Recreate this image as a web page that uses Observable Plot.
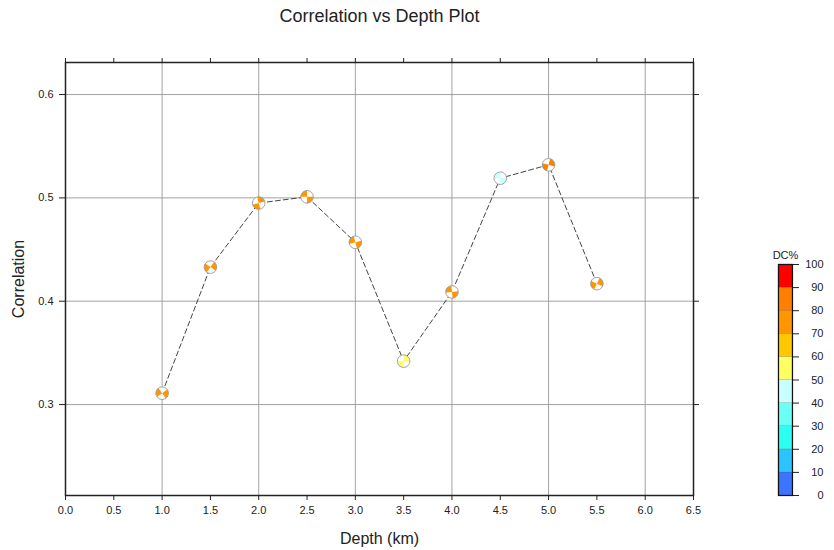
<!DOCTYPE html>
<html>
<head>
<meta charset="utf-8">
<script src="https://cdn.jsdelivr.net/npm/d3@7"></script>
<script src="https://cdn.jsdelivr.net/npm/@observablehq/plot@0.6"></script>
<style>
  body { margin: 0; background: #fff; }
  svg { font-family: "Liberation Sans", Arial, Helvetica, sans-serif; }
</style>
</head>
<body>
<div id="chart"></div>
<script>
// ---- data ----
const depths = [1.0, 1.5, 2.0, 2.5, 3.0, 3.5, 4.0, 4.5, 5.0, 5.5];
const correlations = [0.311, 0.433, 0.495, 0.501, 0.457, 0.342, 0.409, 0.519, 0.532, 0.417];
const dcPercent = [78, 76, 78, 77, 78, 56, 77, 45, 80, 77];
const mechRotation = [10, -10, 120, 45, 30, 135, 40, 45, -30, 160];
const xTicks = [0, 0.5, 1, 1.5, 2, 2.5, 3, 3.5, 4, 4.5, 5, 5.5, 6, 6.5];
const xGrid = [1, 2, 3, 4, 5, 6];
const yTicks = [0.3, 0.4, 0.5, 0.6];
const dcTicks = [0, 10, 20, 30, 40, 50, 60, 70, 80, 90, 100];
const dcThresholds = [10, 20, 30, 40, 50, 60, 70, 80, 90];
const dcColors = ["#3a74ff", "#2cc4ff", "#2afff0", "#6cfff6", "#c8ffff",
                  "#ffff64", "#ffc800", "#ff9600", "#ff8000", "#ff0000"];

const data = depths.map((d, i) => ({depth: d, corr: correlations[i], dc: dcPercent[i], rot: mechRotation[i]}));
const bins = dcTicks.slice(0, -1).map((lo, i) => ({lo, hi: dcTicks[i + 1]}));

const colorScale = {type: "threshold", domain: dcThresholds, range: dcColors};

// two opposite quadrants of a focal-mechanism ball
const wedges = {
  draw(ctx, size) {
    const r = Math.sqrt(size / Math.PI);
    ctx.moveTo(0, 0);
    ctx.arc(0, 0, r, -Math.PI / 4, Math.PI / 4);
    ctx.closePath();
    ctx.moveTo(0, 0);
    ctx.arc(0, 0, r, 3 * Math.PI / 4, 5 * Math.PI / 4);
    ctx.closePath();
  }
};

const font = '"Liberation Sans", Arial, sans-serif';

const main = Plot.plot({
  width: 834,
  height: 550,
  marginLeft: 65,
  marginRight: 141,
  marginTop: 62,
  marginBottom: 55,
  style: {fontFamily: font, fontSize: "11px", color: "#222"},
  x: {domain: [0, 6.5]},
  y: {domain: [0.212, 0.631]},
  color: colorScale,
  marks: [
    Plot.gridX(xGrid, {stroke: "#999", strokeOpacity: 1, strokeWidth: 0.9}),
    Plot.gridY(yTicks, {stroke: "#999", strokeOpacity: 1, strokeWidth: 0.9}),
    Plot.axisX({anchor: "bottom", ticks: xTicks, tickSize: 5, tickPadding: 6, tickFormat: d3.format(".1f"), label: null, fontSize: 11}),
    Plot.axisX({anchor: "top", ticks: xTicks, tickSize: 5, tickFormat: () => "", label: null}),
    Plot.axisY({anchor: "left", ticks: yTicks, tickSize: 6, tickPadding: 6, tickFormat: d3.format(".1f"), label: null, fontSize: 11}),
    Plot.axisY({anchor: "right", ticks: yTicks, tickSize: 5, tickFormat: () => "", label: null}),
    Plot.frame({stroke: "#222", strokeWidth: 1.5}),
    Plot.line(data, {x: "depth", y: "corr", stroke: "#444", strokeWidth: 1, strokeDasharray: "5,3"}),
    Plot.dot(data, {x: "depth", y: "corr", r: 6.3, fill: "white", stroke: "none"}),
    Plot.dot(data, {x: "depth", y: "corr", r: 6.3, symbol: wedges, fill: "dc", rotate: "rot", stroke: "none"}),
    Plot.dot(data, {x: "depth", y: "corr", r: 6.3, fill: "none", stroke: "#999", strokeWidth: 0.9}),
    Plot.text(["Correlation vs Depth Plot"], {frameAnchor: "top", dy: -46, lineAnchor: "middle", textAnchor: "middle", fontSize: 18, fill: "#222"}),
    Plot.text(["Depth (km)"], {frameAnchor: "bottom", dy: 43, lineAnchor: "middle", textAnchor: "middle", fontSize: 16, fill: "#222"}),
    Plot.text(["Correlation"], {frameAnchor: "left", dx: -47, rotate: -90, lineAnchor: "middle", textAnchor: "middle", fontSize: 16, fill: "#222"})
  ]
});

const bar = Plot.plot({
  width: 60,
  height: 259,
  marginLeft: 0,
  marginRight: 46,
  marginTop: 20,
  marginBottom: 8,
  style: {fontFamily: font, fontSize: "11px", color: "#222", overflow: "visible"},
  x: {domain: [0, 1], axis: null},
  y: {domain: [0, 100], axis: null},
  color: colorScale,
  marks: [
    Plot.rect(bins, {x1: 0, x2: 1, y1: "lo", y2: "hi", fill: "lo", stroke: "#333", strokeOpacity: 0.25, strokeWidth: 0.6, inset: 0}),
    Plot.frame({stroke: "#111", strokeWidth: 1.2}),
    Plot.axisY({anchor: "right", ticks: dcTicks, tickSize: 6, tickPadding: 25, textAnchor: "end", label: null, fontSize: 11}),
    Plot.text(["DC%"], {frameAnchor: "top", dy: -9, lineAnchor: "middle", textAnchor: "middle", fontSize: 11, fill: "#222"})
  ]
});
bar.setAttribute("x", 778);
bar.setAttribute("y", 244);
bar.style.width = "60px";
bar.style.height = "259px";
bar.style.maxWidth = "none";
bar.style.overflow = "visible";
main.appendChild(bar);

document.getElementById("chart").appendChild(main);
</script>
</body>
</html>
